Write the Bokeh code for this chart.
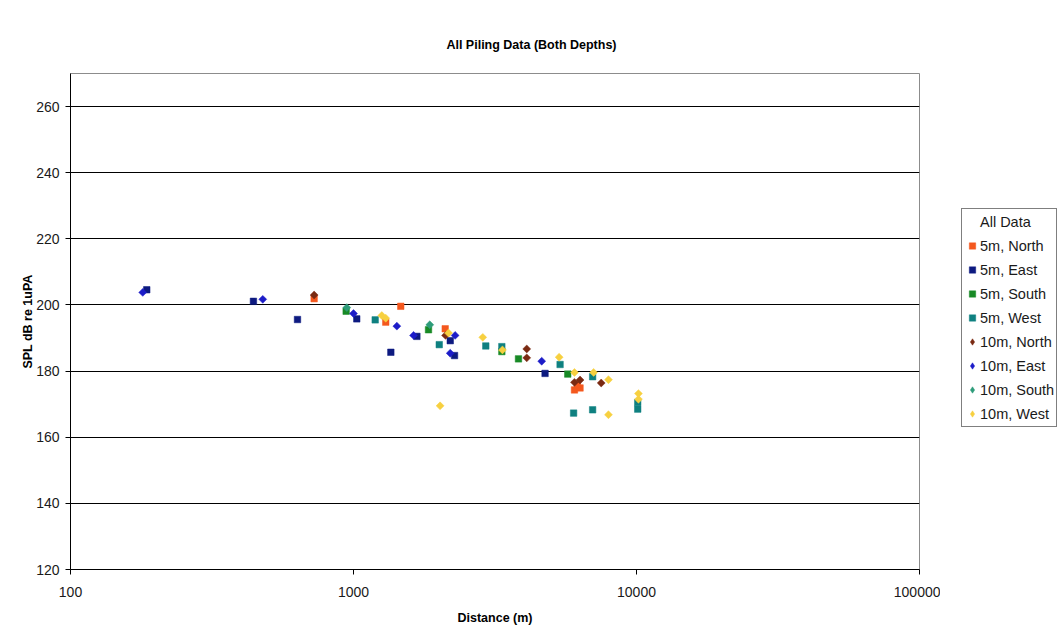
import numpy as np
from bokeh.plotting import figure
from bokeh.layouts import row
from bokeh.models import (Range1d, FixedTicker, NumeralTickFormatter, Legend, LegendItem)
from bokeh.embed import file_html
from bokeh.resources import INLINE

# ---------------- data ----------------
series_names = ["5m, North", "5m, East", "5m, South", "5m, West",
                "10m, North", "10m, East", "10m, South", "10m, West"]

n5_x = [726, 1300, 1469, 2109, 6037, 6317, 6180]
n5_y = [201.9, 194.8, 199.6, 192.8, 174.3, 174.9, 175.8]

e5_x = [186, 443, 634, 1027, 1355, 1675, 2197, 2275, 4752]
e5_y = [204.6, 201.1, 195.6, 195.8, 185.7, 190.5, 189.2, 184.7, 179.3]

s5_x = [942, 1841, 3343, 3828, 5716]
s5_y = [198.1, 192.5, 185.9, 183.7, 179.1]

w5_x = [1193, 2009, 2934, 3343, 5370, 5995, 6998, 6998, 10100, 10100]
w5_y = [195.5, 188.0, 187.6, 187.4, 182.0, 167.3, 168.3, 178.3, 170.5, 168.5]

n10_x = [726, 2115, 4094, 4094, 6037, 6317, 7504]
n10_y = [203.0, 190.8, 186.7, 184.0, 176.6, 177.3, 176.4]

e10_x = [180, 478, 1000, 1423, 1630, 2286, 2197, 4624]
e10_y = [203.8, 201.7, 197.4, 193.6, 190.8, 190.8, 185.4, 183.0]

s10_x = [947, 1860]
s10_y = [199.2, 194.0]

w10_x = [1259, 1300, 2023, 2167, 2863, 3360, 5329, 6037, 7055, 7960, 7960, 10160, 10160]
w10_y = [196.8, 196.0, 169.5, 191.5, 190.2, 186.4, 184.2, 179.6, 179.6, 177.4, 166.8, 173.2, 171.5]

x_ticks = [100, 1000, 10000, 100000]
y_ticks = [120, 140, 160, 180, 200, 220, 240, 260]

colors = ["#F4581E", "#0D1A80", "#188A26", "#0F8080",
          "#7A2A12", "#1C1CC8", "#2E9C7A", "#F7D040"]
FONT = "Liberation Sans"

# ---------------- main figure ----------------
W1, W2, H = 940, 120, 630
p = figure(width=W1, height=H, x_axis_type="log",
           x_range=Range1d(100, 100000), y_range=Range1d(120, 270),
           output_backend="svg", toolbar_location=None,
           min_border_left=70, min_border_right=W1 - 919,
           min_border_top=73, min_border_bottom=H - 569)

p.background_fill_color = "white"
p.border_fill_color = "white"
p.outline_line_color = "#8c8c8c"
p.outline_line_width = 1

# title centred over the whole chart (frame is off-centre): pad with NBSPs
p.title.text = "\u00a0" * 21 + "All Piling Data (Both Depths)"
p.title.align = "center"
p.title.standoff = 44
p.title.text_font = FONT
p.title.text_font_size = "12.5px"
p.title.text_font_style = "bold"
p.title.text_color = "black"

p.xgrid.visible = False
p.ygrid.ticker = FixedTicker(ticks=y_ticks)
p.ygrid.grid_line_color = "black"
p.ygrid.grid_line_width = 1

p.xaxis.ticker = FixedTicker(ticks=x_ticks, minor_ticks=[])
p.xaxis.formatter = NumeralTickFormatter(format="0")
p.yaxis.ticker = FixedTicker(ticks=y_ticks, minor_ticks=[])

for ax in (p.xaxis, p.yaxis):
    ax.axis_line_color = "black"
    ax.major_tick_line_color = "black"
    ax.major_tick_out = 5
    ax.major_tick_in = 0
    ax.minor_tick_line_color = None
    ax.major_label_text_font = FONT
    ax.major_label_text_font_size = "14px"
    ax.major_label_text_color = "#1a1a1a"
    ax.axis_label_text_font = FONT
    ax.axis_label_text_font_size = "12.5px"
    ax.axis_label_text_font_style = "bold"
    ax.axis_label_text_color = "black"

p.xaxis.axis_label = "Distance (m)"
p.yaxis.axis_label = "SPL dB re 1uPA"
p.xaxis.major_label_standoff = 12
p.xaxis.axis_label_standoff = 11
p.yaxis.major_label_standoff = 6
p.yaxis.axis_label_standoff = -2

xs = [n5_x, e5_x, s5_x, w5_x, n10_x, e10_x, s10_x, w10_x]
ys = [n5_y, e5_y, s5_y, w5_y, n10_y, e10_y, s10_y, w10_y]


def plot_style(i, c):
    if i < 4:
        return dict(marker="square", size=6.5, fill_color=c, line_color=c, line_width=0.5)
    return dict(marker="square", size=5.6, angle=np.pi / 4,
                fill_color=c, line_color=c, line_width=0.5)


def legend_style(i, c):
    if i < 4:
        return dict(marker="square", size=6.5, fill_color=c, line_color=c, line_width=0.5)
    return dict(marker="diamond", size=9, fill_color=c, line_color=c, line_width=0.5)


for i, (xv, yv, c) in enumerate(zip(xs, ys, colors)):
    p.scatter(x=xv, y=yv, **plot_style(i, c))

# ---------------- legend panel (same series, out of its view range) ----------------
q = figure(width=W2, height=H, x_range=Range1d(0, 1), y_range=Range1d(0, 1),
           output_backend="svg", toolbar_location=None,
           x_axis_location=None, y_axis_location=None,
           min_border=0, min_border_left=0, min_border_right=0,
           min_border_top=0, min_border_bottom=0)
q.xgrid.visible = False
q.ygrid.visible = False
q.outline_line_color = None
q.background_fill_color = "white"
q.border_fill_color = "white"

heading = q.scatter(x=n5_x, y=n5_y, marker="square", size=1, fill_alpha=0, line_alpha=0)
items = [LegendItem(label="All Data", renderers=[heading])]
for i, (name, xv, yv, c) in enumerate(zip(series_names, xs, ys, colors)):
    r = q.scatter(x=xv, y=yv, **legend_style(i, c))
    items.append(LegendItem(label=name, renderers=[r]))

legend = Legend(items=items, location=(21, 569 - 427), margin=0, padding=2,
                spacing=3, glyph_height=21, glyph_width=16, label_height=21,
                label_standoff=0, label_text_font=FONT,
                label_text_font_size="14.5px", label_text_color="#1a1a1a",
                border_line_color="black", border_line_width=1,
                background_fill_color="white", background_fill_alpha=1)
q.add_layout(legend, "center")

layout = row(p, q, spacing=0)
open("out.html", "w").write(file_html(layout, INLINE))
